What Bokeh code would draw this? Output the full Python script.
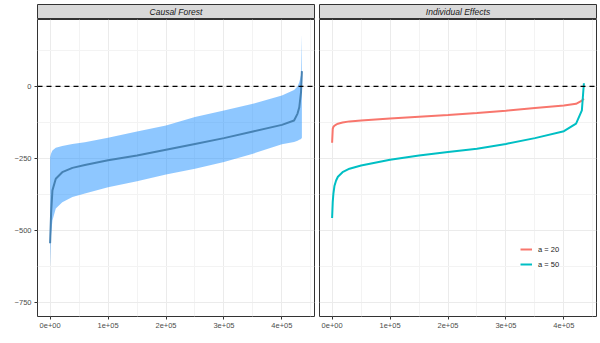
from bokeh.plotting import figure
from bokeh.layouts import column, row
from bokeh.models import FixedTicker, Span, Legend, LegendItem, Range1d
from bokeh.core.properties import value
from bokeh.embed import file_html
from bokeh.resources import INLINE

# ---- data ----
cf_x = [0, 1700, 4000, 9800, 21000, 38500, 60000, 100000, 150000, 200000,
        250000, 300000, 350000, 400000, 421000, 427000, 430000, 433000, 434500]
cf_mean = [-543, -440, -360, -320, -297, -282, -272, -256, -239, -219,
           -199, -179, -156, -133, -118, -94, -72, -20, 53]
cf_upper = [-245, -232, -222, -212, -206, -199, -193, -178, -156, -135,
            -106, -83, -60, -31, -12, 0, 15, 40, 182]
cf_lower = [-626, -510, -464, -423, -401, -383, -371, -349, -328, -305,
            -285, -262, -233, -200, -192, -188, -185, -182, -178]

ie_x = [0, 1100, 2200, 4000, 6900, 10000, 18000, 30000, 50000, 100000, 150000,
        200000, 250000, 300000, 350000, 400000, 421000, 431000, 434500]
ie_a20 = [-195, -147, -140, -136, -132, -129, -125, -121, -118, -111, -105,
          -99, -92, -84, -75, -66, -60, -49, -42]
ie_a50 = [-456, -400, -372, -345, -326, -313, -297, -285, -274, -254, -239,
          -227, -216, -199, -179, -155, -129, -83, 11]

panel_titles = ["Causal Forest", "Individual Effects"]
series_labels = ["a = 20", "a = 50"]
x_ticks = [0, 100000, 200000, 300000, 400000]
x_tick_labels = ["0e+00", "1e+05", "2e+05", "3e+05", "4e+05"]
x_minor = [50000, 150000, 250000, 350000, 450000]
y_ticks = [-750, -500, -250, 0]
y_tick_labels = ["\u2212750", "\u2212500", "\u2212250", "0"]
y_minor = [-625, -375, -125, 125]

FONT = "Liberation Sans"
X_RANGE = (-21750, 456250)
Y_RANGE = (-797, 232)


def make_strip(title, width, bl, br):
    s = figure(width=width, height=19, x_range=(0, 1), y_range=(0, 1),
               output_backend="svg", toolbar_location=None,
               min_border_left=bl, min_border_right=br,
               min_border_top=4, min_border_bottom=0)
    s.axis.visible = False
    s.grid.visible = False
    s.background_fill_color = "#d9d9d9"
    s.border_fill_color = "white"
    s.outline_line_color = "#333333"
    s.outline_line_width = 1
    s.text(x=[0.5], y=[0.5], text=[title], text_font=value(FONT),
           text_font_style="italic", text_font_size="8.5px",
           text_color="#1a1a1a", text_align="center", text_baseline="middle")
    return s


def make_panel(width, bl, br, show_y):
    p = figure(width=width, height=313, output_backend="svg",
               toolbar_location=None,
               x_range=Range1d(*X_RANGE), y_range=Range1d(*Y_RANGE),
               min_border_left=bl, min_border_right=br,
               min_border_top=0, min_border_bottom=16)
    p.background_fill_color = "white"
    p.border_fill_color = "white"
    p.outline_line_color = "#333333"
    p.outline_line_width = 1
    xt = FixedTicker(ticks=x_ticks, minor_ticks=x_minor)
    yt = FixedTicker(ticks=y_ticks, minor_ticks=y_minor)
    p.xaxis.ticker = xt
    p.yaxis.ticker = yt
    p.xgrid.ticker = xt
    p.ygrid.ticker = yt
    p.xaxis.major_label_overrides = dict(zip(x_ticks, x_tick_labels))
    p.yaxis.major_label_overrides = dict(zip(y_ticks, y_tick_labels))
    for ax in [p.xaxis, p.yaxis]:
        ax.axis_line_color = None
        ax.major_tick_line_color = "#333333"
        ax.major_tick_out = 3
        ax.major_tick_in = 0
        ax.minor_tick_line_color = None
        ax.major_label_text_font = FONT
        ax.major_label_text_font_size = "7.5px"
        ax.major_label_text_color = "#4d4d4d"
        ax.major_label_standoff = 2
    p.grid.grid_line_color = "#ebebeb"
    p.grid.grid_line_width = 1
    p.grid.minor_grid_line_color = "#f3f3f3"
    p.grid.minor_grid_line_width = 1
    if not show_y:
        p.yaxis.visible = False
    p.add_layout(Span(location=0, dimension="width", line_color="black",
                      line_dash="5 4", line_width=1.3))
    return p


# left panel
s1 = make_strip(panel_titles[0], 316, 37, 2)
p1 = make_panel(316, 37, 2, True)
p1.varea(x=cf_x, y1=cf_lower, y2=cf_upper, fill_color="#1e90ff", fill_alpha=0.5)
p1.line(cf_x, cf_mean, line_color="#4682b4", line_width=2)

# right panel
s2 = make_strip(panel_titles[1], 282, 3, 2)
p2 = make_panel(282, 3, 2, False)
r20 = p2.line(ie_x, ie_a20, line_color="#F8766D", line_width=2)
r50 = p2.line(ie_x, ie_a50, line_color="#00BFC4", line_width=2)
legend = Legend(items=[LegendItem(label=series_labels[0], renderers=[r20]),
                       LegendItem(label=series_labels[1], renderers=[r50])],
                location=(201, 46), glyph_width=12, glyph_height=12,
                label_height=12, label_width=20, spacing=3, padding=5,
                margin=0, label_standoff=6, border_line_color=None,
                background_fill_color="white", background_fill_alpha=1,
                label_text_font=FONT, label_text_font_size="7.5px",
                label_text_color="#1a1a1a")
p2.add_layout(legend)

layout = row(column(s1, p1), column(s2, p2))
open("out.html", "w").write(file_html(layout, INLINE))
